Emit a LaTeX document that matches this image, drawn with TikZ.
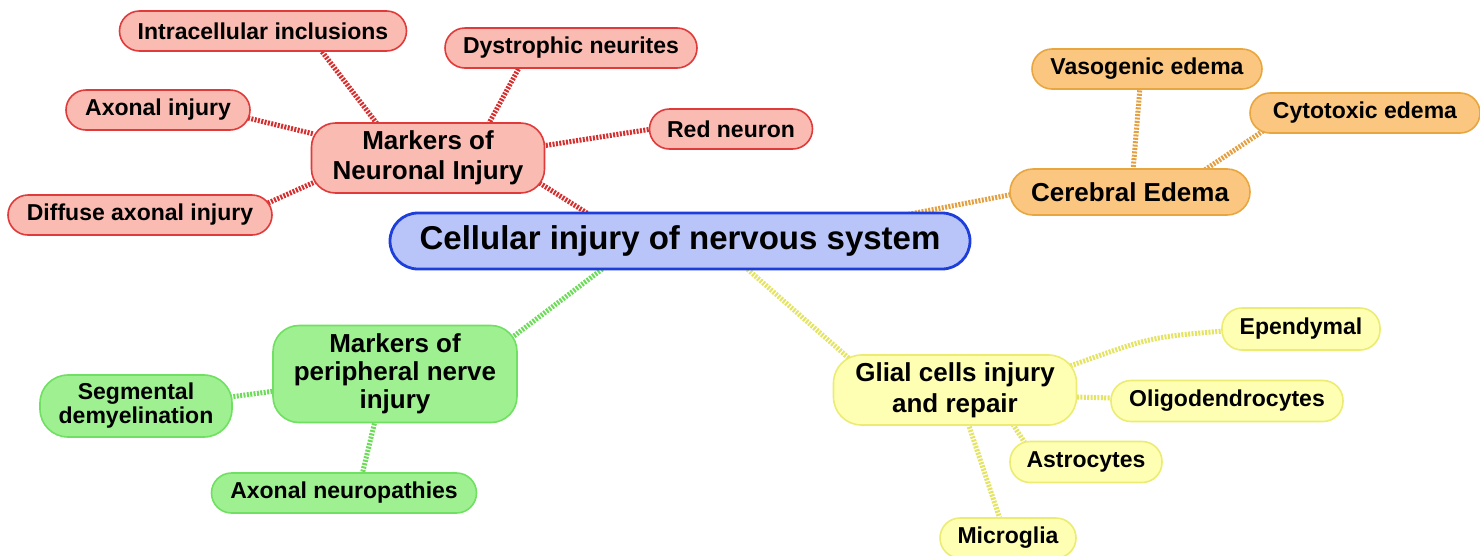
\documentclass[tikz,border=0pt]{standalone}
\usepackage{fontspec}
\setmainfont{Liberation Sans}
\usetikzlibrary{calc}
\pgfdeclarelayer{bg}
\pgfsetlayers{bg,main}
\definecolor{rfill}{HTML}{F9BBB2}
\definecolor{rdraw}{HTML}{E03A3A}
\definecolor{rcon}{HTML}{D62E2E}
\definecolor{bfill}{HTML}{B9C5F9}
\definecolor{bdraw}{HTML}{1E3EDC}
\definecolor{ofill}{HTML}{FBC780}
\definecolor{odraw}{HTML}{E8A640}
\definecolor{ocon}{HTML}{E4A040}
\definecolor{gfill}{HTML}{9EF090}
\definecolor{gdraw}{HTML}{70E062}
\definecolor{gcon}{HTML}{6CDC58}
\definecolor{yfill}{HTML}{FFFFB4}
\definecolor{ydraw}{HTML}{ECEC72}
\definecolor{ycon}{HTML}{E4E460}
\begin{document}
\begin{tikzpicture}[x=1pt,y=-1pt,
  box/.style={draw, align=center, inner xsep=6pt, inner ysep=0pt, line width=1.6pt,
    font=\bfseries\fontsize{23}{24}\selectfont, minimum height=40pt, rounded corners=20pt},
  mid/.style={box, font=\bfseries\fontsize{26}{30}\selectfont},
  rbox/.style={box, fill=rfill, draw=rdraw},
  obox/.style={box, fill=ofill, draw=odraw},
  gbox/.style={box, fill=gfill, draw=gdraw},
  ybox/.style={box, fill=yfill, draw=ydraw},
  con/.style={line width=5pt, dash pattern=on 2pt off 1.4pt},
  rline/.style={con, draw=rcon},
  oline/.style={con, draw=ocon},
  gline/.style={con, draw=gcon},
  yline/.style={con, draw=ycon}
]
\useasboundingbox (0,0) rectangle (1480,555);

% center
\node[box, fill=bfill, draw=bdraw, line width=2.8pt, minimum width=580pt, minimum height=56pt,
  rounded corners=28pt, font=\bfseries\fontsize{33}{36}\selectfont] (c) at (680,241) {Cellular injury of nervous system};

% neuronal injury (red)
\node[rbox, mid, minimum width=233pt, minimum height=70pt, rounded corners=24pt] (ni) at (428,158) {Markers of\\Neuronal Injury};
\node[rbox, minimum width=287pt] (ii) at (263,31) {Intracellular inclusions};
\node[rbox, minimum width=252pt] (dn) at (571,48) {Dystrophic neurites};
\node[rbox, minimum width=184pt] (ai) at (158,110) {Axonal injury};
\node[rbox, minimum width=163pt] (rn) at (731,129) {Red neuron};
\node[rbox, minimum width=264pt] (dai) at (140,215) {Diffuse axonal injury};

% cerebral edema (orange)
\node[obox, mid, minimum width=240pt, minimum height=46pt, rounded corners=23pt] (ce) at (1130,192) {Cerebral Edema};
\node[obox, minimum width=230pt] (ve) at (1147,69) {Vasogenic edema};
\node[obox, minimum width=230pt] (ct) at (1365,113) {Cytotoxic edema};

% peripheral nerve (green)
\node[gbox, mid, minimum width=244pt, minimum height=97pt, rounded corners=26pt,
  font=\bfseries\fontsize{26}{28}\selectfont] (pn) at (395,374) {Markers of\\peripheral nerve\\injury};
\node[gbox, minimum width=192pt, minimum height=62pt, rounded corners=28pt] (sd) at (136,406) {Segmental\\demyelination};
\node[gbox, minimum width=265pt] (an) at (344,493) {Axonal neuropathies};

% glial (yellow)
\node[ybox, mid, minimum width=243pt, minimum height=70pt, rounded corners=28pt,
  font=\bfseries\fontsize{26}{31}\selectfont] (gl) at (955,390) {Glial cells injury\\and repair};
\node[ybox, minimum width=158pt, minimum height=42pt] (ep) at (1301,329) {Ependymal};
\node[ybox, minimum width=232pt, minimum height=41pt] (ol) at (1227,401) {Oligodendrocytes};
\node[ybox, minimum width=152pt, minimum height=41pt] (as) at (1086,462) {Astrocytes};
\node[ybox, minimum width=136pt, minimum height=40pt] (mg) at (1008,538) {Microglia};

\begin{pgfonlayer}{bg}
  \fill[white] (0,0) rectangle (1480,555);
  \draw[rline] ([shift={(57,18)}]ii.center) -- ([shift={(-50,-33)}]ni.center);
  \draw[rline] ([shift={(-51,18)}]dn.center) -- ([shift={(60,-33)}]ni.center);
  \draw[rline] ([shift={(90,8)}]ai.center) -- ([shift={(-114,-24)}]ni.center);
  \draw[rline] ([shift={(-79,0)}]rn.center) -- ([shift={(114,-12)}]ni.center);
  \draw[rline] ([shift={(128,-12)}]dai.center) -- ([shift={(-111,23)}]ni.center);
  \draw[rline] ([shift={(-90,-26)}]c.center) -- ([shift={(110,24)}]ni.center);

  \draw[oline] ([shift={(225,-26)}]c.center) -- ([shift={(-116,2)}]ce.center);
  \draw[oline] ([shift={(-7,18)}]ve.center) -- ([shift={(3,-21)}]ce.center);
  \draw[oline] ([shift={(-99,16)}]ct.center) -- ([shift={(73,-21)}]ce.center);

  \draw[gline] ([shift={(-75,26)}]c.center) -- ([shift={(115,-35)}]pn.center);
  \draw[gline] ([shift={(94,-9)}]sd.center) -- ([shift={(-120,17)}]pn.center);
  \draw[gline] ([shift={(18,-18)}]an.center) -- ([shift={(-20,47)}]pn.center);

  \draw[yline] ([shift={(65,26)}]c.center) -- ([shift={(-103,-29)}]gl.center);
  \draw[yline] ([shift={(-77,2)}]ep.center) .. controls ([shift={(-150,8)}]ep.center) .. ([shift={(115,-24)}]gl.center);
  \draw[yline] ([shift={(-114,-3)}]ol.center) -- ([shift={(120,7)}]gl.center);
  \draw[yline] ([shift={(-61,-19)}]as.center) -- ([shift={(57,33)}]gl.center);
  \draw[yline] ([shift={(-8,-19)}]mg.center) -- ([shift={(13,33)}]gl.center);
\end{pgfonlayer}
\end{tikzpicture}
\end{document}
